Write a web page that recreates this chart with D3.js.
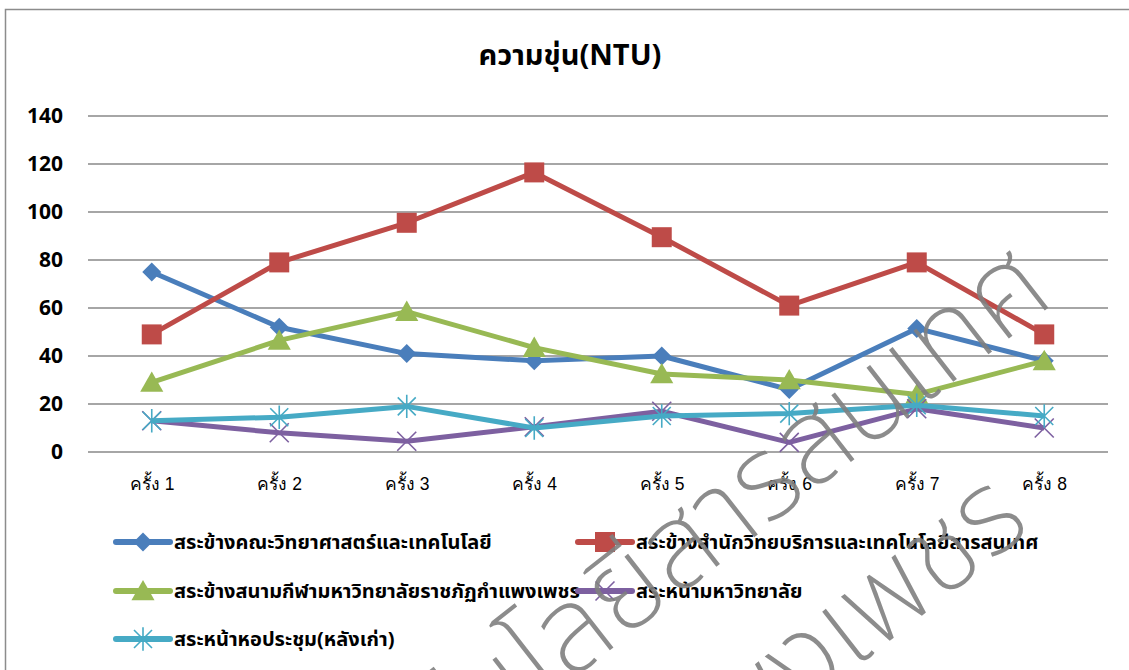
<!DOCTYPE html>
<html>
<head>
<meta charset="utf-8">
<script src="https://cdn.jsdelivr.net/npm/d3@7"></script>
<style>
  body { margin: 0; background: #fff; }
  svg { display: block; font-family: "Noto Sans Thai", Tahoma, "Liberation Sans", Arial, sans-serif; }
</style>
</head>
<body>
<svg id="chart" width="1129" height="670"></svg>
<script>
// data
const rounds = ["ครั้ง 1", "ครั้ง 2", "ครั้ง 3", "ครั้ง 4", "ครั้ง 5", "ครั้ง 6", "ครั้ง 7", "ครั้ง 8"];
const seriesNames = [
  "สระข้างคณะวิทยาศาสตร์และเทคโนโลยี",
  "สระข้างสำนักวิทยบริการและเทคโนโลยีสารสนเทศ",
  "สระข้างสนามกีฬามหาวิทยาลัยราชภัฏกำแพงเพชร",
  "สระหน้ามหาวิทยาลัย",
  "สระหน้าหอประชุม(หลังเก่า)"
];
const scienceVals = [75, 52, 41, 38, 40, 26, 51.5, 38];
const officeVals  = [49, 79, 95.5, 116.5, 89.5, 61, 79, 49];
const stadiumVals = [29, 46.5, 58.5, 43.5, 32.5, 30, 24, 38];
const frontVals   = [13, 8, 4.5, 10.5, 17, 4, 18, 10];
const hallVals    = [13, 14.5, 19, 10, 15, 16, 19.5, 15];
const yTicks = [0, 20, 40, 60, 80, 100, 120, 140];

const colors = ["#4a7ebb", "#be4b48", "#98b954", "#7d60a0", "#46aac5"];
const shapes = ["diamond", "square", "triangle", "cross", "star"];
const allVals = [scienceVals, officeVals, stadiumVals, frontVals, hallVals];

const svg = d3.select("#chart");
const margin = {top: 116, left: 88, right: 21, bottom: 218};
const W = 1129, H = 670;

// outer chart frame
svg.append("rect")
  .attr("x", 5.5).attr("y", 9.5)
  .attr("width", 1300).attr("height", 800)
  .attr("fill", "none").attr("stroke", "#8c8c8c").attr("stroke-width", 1.5);

svg.append("text")
  .attr("x", 570).attr("y", 65)
  .attr("text-anchor", "middle")
  .style("font-size", "29px").style("font-weight", "bold")
  .text("ความขุ่น(NTU)");

const x = d3.scalePoint().domain(rounds).range([margin.left, W - margin.right]).padding(0.5);
const y = d3.scaleLinear().domain([0, 140]).range([H - margin.bottom, margin.top]);

// grid
svg.append("g")
  .selectAll("line").data(yTicks).join("line")
  .attr("x1", margin.left).attr("x2", W - margin.right)
  .attr("y1", d => y(d)).attr("y2", d => y(d))
  .attr("stroke", "#888").attr("stroke-width", 1.6);

const yAxis = svg.append("g")
  .attr("transform", "translate(" + (margin.left - 25) + ",0)")
  .call(d3.axisLeft(y).tickValues(yTicks).tickSize(0).tickPadding(0));
yAxis.select(".domain").remove();
yAxis.selectAll("text")
  .attr("font-family", "'Open Sans', 'Liberation Sans', sans-serif")
  .style("font-size", "21px").style("font-weight", "bold").attr("fill", "#000");

const xAxis = svg.append("g")
  .attr("transform", "translate(0," + (y(0) + 26) + ")")
  .call(d3.axisBottom(x).tickSize(0).tickPadding(0));
xAxis.select(".domain").remove();
xAxis.selectAll("text")
  .attr("font-family", null)
  .style("font-size", "17.5px").attr("fill", "#000");

function marker(type, s) {
  const p = d3.path();
  if (type === "diamond") {
    p.moveTo(0, -s); p.lineTo(s, 0); p.lineTo(0, s); p.lineTo(-s, 0); p.closePath();
  } else if (type === "square") {
    p.rect(-s, -s, 2 * s, 2 * s);
  } else if (type === "triangle") {
    p.moveTo(0, -s); p.lineTo(s * 1.05, s * 0.85); p.lineTo(-s * 1.05, s * 0.85); p.closePath();
  } else if (type === "cross") {
    p.moveTo(-s, -s); p.lineTo(s, s); p.moveTo(s, -s); p.lineTo(-s, s);
  } else {
    p.moveTo(-s, -s); p.lineTo(s, s); p.moveTo(s, -s); p.lineTo(-s, s);
    p.moveTo(0, -s * 1.3); p.lineTo(0, s * 1.3);
  }
  return p.toString();
}
const sizes = [9.5, 10, 11, 9.5, 9];

function drawMarker(g, i, cx, cy, s) {
  const open = shapes[i] === "cross" || shapes[i] === "star";
  g.append("path")
    .attr("transform", "translate(" + cx + "," + cy + ")")
    .attr("d", marker(shapes[i], s))
    .attr("fill", open ? "none" : colors[i])
    .attr("stroke", colors[i])
    .attr("stroke-width", open ? 1.6 : 0);
}

const line = d3.line().x((d, i) => x(rounds[i])).y(d => y(d));
const plot = svg.append("g");
allVals.forEach((vals, i) => {
  const g = plot.append("g");
  g.append("path")
    .attr("d", line(vals))
    .attr("fill", "none").attr("stroke", colors[i])
    .attr("stroke-width", 5).attr("stroke-linejoin", "round");
  vals.forEach((v, j) => drawMarker(g, i, x(rounds[j]), y(v), sizes[i]));
});

// legend
const legPos = [[116, 542], [578, 542], [116, 591], [578, 591], [116, 639]];
const legend = svg.append("g");
seriesNames.forEach((name, i) => {
  const [lx, ly] = legPos[i];
  const g = legend.append("g");
  g.append("line")
    .attr("x1", lx).attr("x2", lx + 54).attr("y1", ly).attr("y2", ly)
    .attr("stroke", colors[i]).attr("stroke-width", 6).attr("stroke-linecap", "round");
  drawMarker(g, i, lx + 27, ly, sizes[i]);
  g.append("text")
    .attr("x", lx + 58).attr("y", ly + 7)
    .style("font-size", "20px").style("font-weight", "bold")
    .text(name);
});

// watermark of the source scan
const wm = svg.append("g")
  .attr("transform", "translate(1058,300) rotate(-38)")
  .attr("fill", "#808080").attr("opacity", 0.9)
  .style("font-size", "118px").style("font-weight", 200);
wm.append("text").attr("text-anchor", "end").text("สำนักวิทยบริการและเทคโนโลยีสารสนเทศ");
wm.append("text").attr("text-anchor", "end").attr("x", -160).attr("y", 165).text("มหาวิทยาลัยราชภัฏกำแพงเพชร");
</script>
</body>
</html>
